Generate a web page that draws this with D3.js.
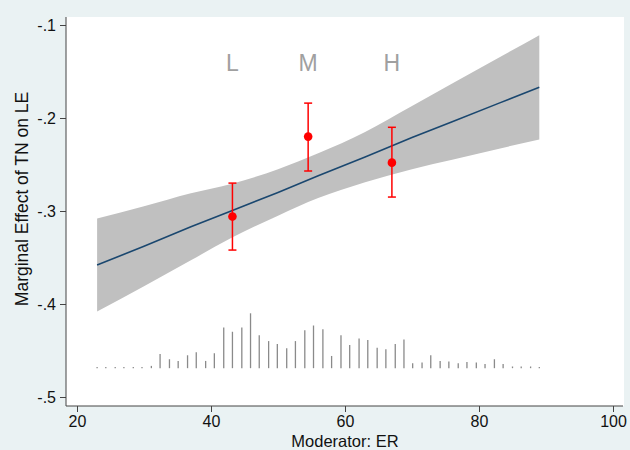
<!DOCTYPE html>
<html>
<head>
<meta charset="utf-8">
<script src="https://cdn.jsdelivr.net/npm/d3@7"></script>
<style>
  body { margin: 0; background: #eaf2f3; }
  text { font-family: "Liberation Sans", Arial, sans-serif; }
</style>
</head>
<body>
<div id="chart"></div>
<script>
// moderator grid for the marginal effect line + 95% CI
var erGrid   = [23, 30, 37, 43, 50, 56, 63, 70, 76, 83, 89]
var effect   = [-0.358, -0.338, -0.317, -0.300, -0.280, -0.262, -0.242, -0.221, -0.204, -0.184, -0.167]
var ciUpper  = [-0.308, -0.295, -0.281, -0.271, -0.255, -0.238, -0.215, -0.187, -0.163, -0.135, -0.111]
var ciLower  = [-0.408, -0.381, -0.353, -0.329, -0.305, -0.286, -0.269, -0.255, -0.245, -0.233, -0.223]

// binned estimates (L, M, H)
var binLabels = ["L", "M", "H"]
var binEr     = [43.2, 54.5, 67.0]
var binEst    = [-0.306, -0.220, -0.248]
var binLo     = [-0.342, -0.257, -0.285]
var binHi     = [-0.270, -0.184, -0.210]

// distribution of the moderator (percent per bin)
var histEr = [23.0, 24.3, 25.7, 27.0, 28.4, 29.7, 31.1, 32.4, 33.8, 35.1,
              36.5, 37.8, 39.2, 40.5, 41.9, 43.2, 44.6, 45.9, 47.2, 48.6,
              49.9, 51.3, 52.6, 54.0, 55.3, 56.7, 58.0, 59.4, 60.7, 62.1,
              63.4, 64.8, 66.1, 67.5, 68.8, 70.1, 71.5, 72.8, 74.2, 75.5,
              76.9, 78.2, 79.6, 80.9, 82.3, 83.6, 85.0, 86.3, 87.7, 89.0]
var histPct = [0.13, 0.13, 0.13, 0.13, 0.13, 0.13, 0.23, 1.43, 0.90, 0.73,
               1.30, 1.60, 0.73, 1.50, 4.10, 3.67, 4.10, 5.53, 3.33, 2.73,
               2.43, 2.00, 2.73, 3.83, 4.30, 3.93, 1.23, 3.33, 2.33, 3.00,
               2.83, 2.07, 1.90, 2.43, 2.90, 0.50, 0.57, 1.30, 0.73, 0.67,
               0.50, 0.63, 0.57, 0.43, 0.90, 0.43, 0.17, 0.17, 0.17, 0.13]
var histBase = -0.469, histTop = -0.410

var xTicks = [20, 40, 60, 80, 100]
var yTicks = [-0.5, -0.4, -0.3, -0.2, -0.1]

var width = 630, height = 450
var plot = {left: 66, right: 624, top: 17, bottom: 406}

var svg = d3.select("#chart").append("svg")
    .attr("width", width)
    .attr("height", height)

svg.append("rect")
    .attr("width", width).attr("height", height)
    .attr("fill", "#eaf2f3")

svg.append("rect")
    .attr("x", plot.left).attr("y", plot.top)
    .attr("width", plot.right - plot.left)
    .attr("height", plot.bottom - plot.top)
    .attr("fill", "#ffffff")

var x = d3.scaleLinear().domain([20, 100]).range([77, 613])
var y = d3.scaleLinear().domain([-0.5, -0.1]).range([397, 25])
var h = d3.scaleLinear().domain([0, d3.max(histPct)]).range([y(histBase), y(histTop)])

function stataFmt(v) {
    var s = Math.abs(v).toFixed(1).replace(/^0/, "")
    return (v < 0 ? "-" : "") + s
}

// CI band
var rows = erGrid.map(function(d, i) { return {er: d, me: effect[i], lo: ciLower[i], hi: ciUpper[i]} })

svg.append("path")
    .datum(rows)
    .attr("fill", "#c0c0c0")
    .attr("d", d3.area()
        .curve(d3.curveMonotoneX)
        .x(function(d) { return x(d.er) })
        .y0(function(d) { return y(d.lo) })
        .y1(function(d) { return y(d.hi) }))

svg.append("path")
    .datum(rows)
    .attr("fill", "none")
    .attr("stroke", "#1a476f")
    .attr("stroke-width", 1.6)
    .attr("d", d3.line()
        .x(function(d) { return x(d.er) })
        .y(function(d) { return y(d.me) }))

// histogram spikes
svg.append("g")
    .selectAll("line")
    .data(histEr)
    .enter().append("line")
    .attr("x1", function(d) { return x(d) })
    .attr("x2", function(d) { return x(d) })
    .attr("y1", h(0))
    .attr("y2", function(d, i) { return h(histPct[i]) })
    .attr("stroke", "#8a8a8a")
    .attr("stroke-width", 1.3)

// binned estimates
var bins = binEr.map(function(d, i) {
    return {er: d, est: binEst[i], lo: binLo[i], hi: binHi[i], label: binLabels[i]}
})

var bin = svg.append("g").selectAll("g")
    .data(bins)
    .enter().append("g")

bin.append("line")
    .attr("x1", function(d) { return x(d.er) }).attr("x2", function(d) { return x(d.er) })
    .attr("y1", function(d) { return y(d.lo) }).attr("y2", function(d) { return y(d.hi) })
    .attr("stroke", "#ff0000").attr("stroke-width", 1.5)

bin.selectAll(".cap")
    .data(function(d) { return [{er: d.er, v: d.lo}, {er: d.er, v: d.hi}] })
    .enter().append("line")
    .attr("class", "cap")
    .attr("x1", function(d) { return x(d.er) - 4 }).attr("x2", function(d) { return x(d.er) + 4 })
    .attr("y1", function(d) { return y(d.v) }).attr("y2", function(d) { return y(d.v) })
    .attr("stroke", "#ff0000").attr("stroke-width", 1.5)

bin.append("circle")
    .attr("cx", function(d) { return x(d.er) })
    .attr("cy", function(d) { return y(d.est) })
    .attr("r", 4.3)
    .attr("fill", "#ff0000")

bin.append("text")
    .attr("x", function(d) { return x(d.er) })
    .attr("y", y(-0.141))
    .attr("dy", "0.36em")
    .attr("text-anchor", "middle")
    .attr("fill", "#a0a0a0")
    .style("font-size", "23px")
    .text(function(d) { return d.label })

// axes
var xAxis = svg.append("g")
    .attr("transform", "translate(0," + plot.bottom + ")")
    .call(d3.axisBottom(x).tickValues(xTicks).tickSize(6).tickPadding(4))
xAxis.select(".domain").remove()

var yAxis = svg.append("g")
    .attr("transform", "translate(" + plot.left + ",0)")
    .call(d3.axisLeft(y).tickValues(yTicks).tickFormat(stataFmt).tickSize(6).tickPadding(4))
yAxis.select(".domain").remove()

svg.selectAll(".tick line").attr("stroke", "#444")
svg.selectAll(".tick text")
    .attr("fill", "#111")
    .style("font-size", "16px")
    .style("font-family", "'Liberation Sans', Arial, sans-serif")

svg.append("line")
    .attr("x1", plot.left).attr("x2", plot.right - 1)
    .attr("y1", plot.bottom).attr("y2", plot.bottom)
    .attr("stroke", "#444")
svg.append("line")
    .attr("x1", plot.left).attr("x2", plot.left)
    .attr("y1", plot.top).attr("y2", plot.bottom)
    .attr("stroke", "#444")

svg.append("text")
    .attr("x", (plot.left + plot.right) / 2)
    .attr("y", 447)
    .attr("text-anchor", "middle")
    .attr("fill", "#111")
    .style("font-size", "16.5px")
    .text("Moderator: ER")

svg.append("text")
    .attr("transform", "translate(28,199)rotate(-90)")
    .attr("text-anchor", "middle")
    .attr("fill", "#111")
    .style("font-size", "17.5px")
    .text("Marginal Effect of TN on LE")
</script>
</body>
</html>
